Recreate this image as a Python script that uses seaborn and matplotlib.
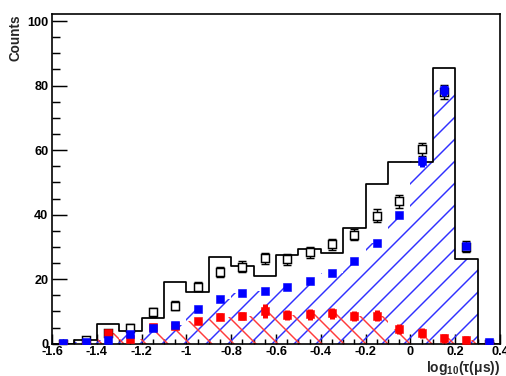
import matplotlib
matplotlib.use("Agg")
import matplotlib.pyplot as plt
import seaborn as sns
from matplotlib.ticker import MultipleLocator

# ---------------- data ----------------
bin_edges = [-1.6, -1.5, -1.4, -1.3, -1.2, -1.1, -1.0, -0.9, -0.8, -0.7, -0.6,
             -0.5, -0.4, -0.3, -0.2, -0.1, 0.0, 0.1, 0.2, 0.3, 0.4]
bin_centers = [-1.55, -1.45, -1.35, -1.25, -1.15, -1.05, -0.95, -0.85, -0.75, -0.65,
               -0.55, -0.45, -0.35, -0.25, -0.15, -0.05, 0.05, 0.15, 0.25, 0.35]

# black outline histogram
black_hist = [0, 1, 6, 4, 8, 19, 16, 27, 24, 21,
              27.5, 29.3, 28.1, 36, 49.4, 56.2, 56.2, 85.4, 26.3, 0]
# blue hatched histogram
blue_fill = [0.3, 0.6, 1.1, 2.9, 4.8, 5.9, 10.9, 13.9, 15.8, 16.4,
             17.7, 19.4, 21.8, 25.6, 31.3, 39.9, 56.5, 78.5, 26.3, 0.4]
# red hatched histogram
red_fill = [0, 0, 3.2, 1.5, 5.1, 5.5, 7.1, 8.4, 8.6, 10.2,
            8.9, 9.1, 9.4, 8.6, 8.6, 4.5, 3.4, 1.7, 1.1, 0]

# open black points
black_pts = [0, 1, 3.4, 5, 9.7, 11.7, 17.7, 22.3, 23.9, 26.5,
             26.2, 28.3, 30.8, 33.7, 39.7, 44.2, 60.2, 78.0, 30.0, 0]
black_err = [0, 0.8, 1.0, 1.1, 1.3, 1.4, 1.5, 1.6, 1.6, 1.7,
             1.7, 1.7, 1.7, 1.7, 1.9, 2.0, 2.1, 2.3, 1.7, 0]
# blue points
blue_pts = [0.3, 0.6, 1.1, 2.9, 4.8, 5.9, 10.9, 13.9, 15.8, 16.4,
            17.7, 19.4, 21.8, 25.6, 31.3, 39.9, 56.5, 78.5, 30.3, 0.4]
blue_err = [0, 0, 0, 0, 0, 0, 0, 0, 0, 0,
            0, 0, 0, 0, 0, 0, 1.6, 1.8, 0.8, 0]
# red points
red_pts = [0, 0, 3.2, 1.5, 5.1, 5.5, 7.1, 8.4, 8.6, 10.2,
           8.9, 9.1, 9.4, 8.6, 8.6, 4.5, 3.4, 1.7, 1.1, 0]
red_err = [0, 0, 0.6, 0.5, 0.8, 0.8, 1.0, 1.1, 1.3, 2.2,
           1.6, 1.7, 1.7, 1.6, 1.7, 1.6, 1.5, 1.4, 1.2, 0]

x_ticks = [-1.6, -1.4, -1.2, -1.0, -0.8, -0.6, -0.4, -0.2, 0.0, 0.2, 0.4]
x_tick_labels = ["-1.6", "-1.4", "-1.2", "-1", "-0.8", "-0.6", "-0.4", "-0.2", "0", "0.2", "0.4"]
y_ticks = [0, 20, 40, 60, 80, 100]
y_tick_labels = ["0", "20", "40", "60", "80", "100"]

# ---------------- style ----------------
sns.set_style("ticks")
plt.rcParams["font.family"] = ["Liberation Sans", "DejaVu Sans"]
plt.rcParams["font.weight"] = "bold"
plt.rcParams["mathtext.fontset"] = "custom"
plt.rcParams["mathtext.rm"] = "Liberation Sans:bold"
plt.rcParams["mathtext.it"] = "Liberation Sans:bold"
plt.rcParams["mathtext.bf"] = "Liberation Sans:bold"
plt.rcParams["hatch.linewidth"] = 0.8

BLUE = "#3030ff"
RED = "#ff3b3b"
DPI = 132
W, H = 506, 376
fig = plt.figure(figsize=(W / DPI, H / DPI), dpi=DPI)
fig.patch.set_facecolor("white")
ax = fig.add_axes([52 / W, 1 - 343.7 / H, 448 / W, (343.7 - 14.3) / H])
ax.set_facecolor("white")


def hatch_hist(values, color, pattern):
    sns.histplot(x=bin_centers, weights=values, bins=bin_edges, element="step",
                 fill=True, ax=ax, color=color, linewidth=0)
    c = ax.collections[-1]
    c.set_facecolor("none")
    c.set_edgecolor(color)
    c.set_linewidth(0)
    c.set_hatch(pattern)


hatch_hist(blue_fill, BLUE, "//")
hatch_hist(red_fill, RED, "\\\\")

# black outline histogram
sns.histplot(x=bin_centers, weights=black_hist, bins=bin_edges, element="step",
             fill=False, ax=ax, color="black", linewidth=0.95)

# points
ax.errorbar(bin_centers, black_pts, yerr=black_err, fmt="s", ms=3.9, mfc="white",
            mec="black", mew=0.8, ecolor="black", elinewidth=0.8, capsize=2.0,
            capthick=0.8, zorder=5)
ax.errorbar(bin_centers, red_pts, yerr=red_err, fmt="s", ms=4.1, mfc="#ff0000",
            mec="#ff0000", mew=0.3, ecolor="#ff0000", elinewidth=2.7, capsize=0,
            zorder=6)
ax.errorbar(bin_centers, blue_pts, yerr=blue_err, fmt="s", ms=4.3, mfc="#0000ff",
            mec="#0000ff", mew=0.3, ecolor="#0000ff", elinewidth=2.7, capsize=0,
            zorder=7)

# axes
ax.set_xlim(-1.6, 0.4)
ax.set_ylim(0, 102.1)
ax.set_xlabel("")
ax.set_ylabel("")
ax.set_xticks(x_ticks)
ax.set_xticklabels(x_tick_labels)
ax.set_yticks(y_ticks)
ax.set_yticklabels(y_tick_labels)
ax.xaxis.set_minor_locator(MultipleLocator(0.05))
ax.yaxis.set_minor_locator(MultipleLocator(5))
ax.tick_params(axis="both", which="both", direction="in", top=False, right=False,
               colors="black", width=0.8, labelsize=6.9)
ax.tick_params(axis="y", which="major", length=8.2, pad=2)
ax.tick_params(axis="y", which="minor", length=4.4)
ax.tick_params(axis="x", which="major", length=5.5, pad=1.5)
ax.tick_params(axis="x", which="minor", length=2.8)
for sp in ax.spines.values():
    sp.set_visible(True)
    sp.set_color("black")
    sp.set_linewidth(0.9)
for lab in ax.get_xticklabels() + ax.get_yticklabels():
    lab.set_fontweight("bold")

fig.text(16 / W, 1 - 14.5 / H, "Counts", rotation=90, ha="center", va="top",
         fontsize=7.4, fontweight="bold")
fig.text(500 / W, 1 - 368 / H, r"log$_{10}$(τ(μs))", ha="right", va="center",
         fontsize=7.6, fontweight="bold")

fig.savefig("out.png", dpi=DPI, facecolor="white")
